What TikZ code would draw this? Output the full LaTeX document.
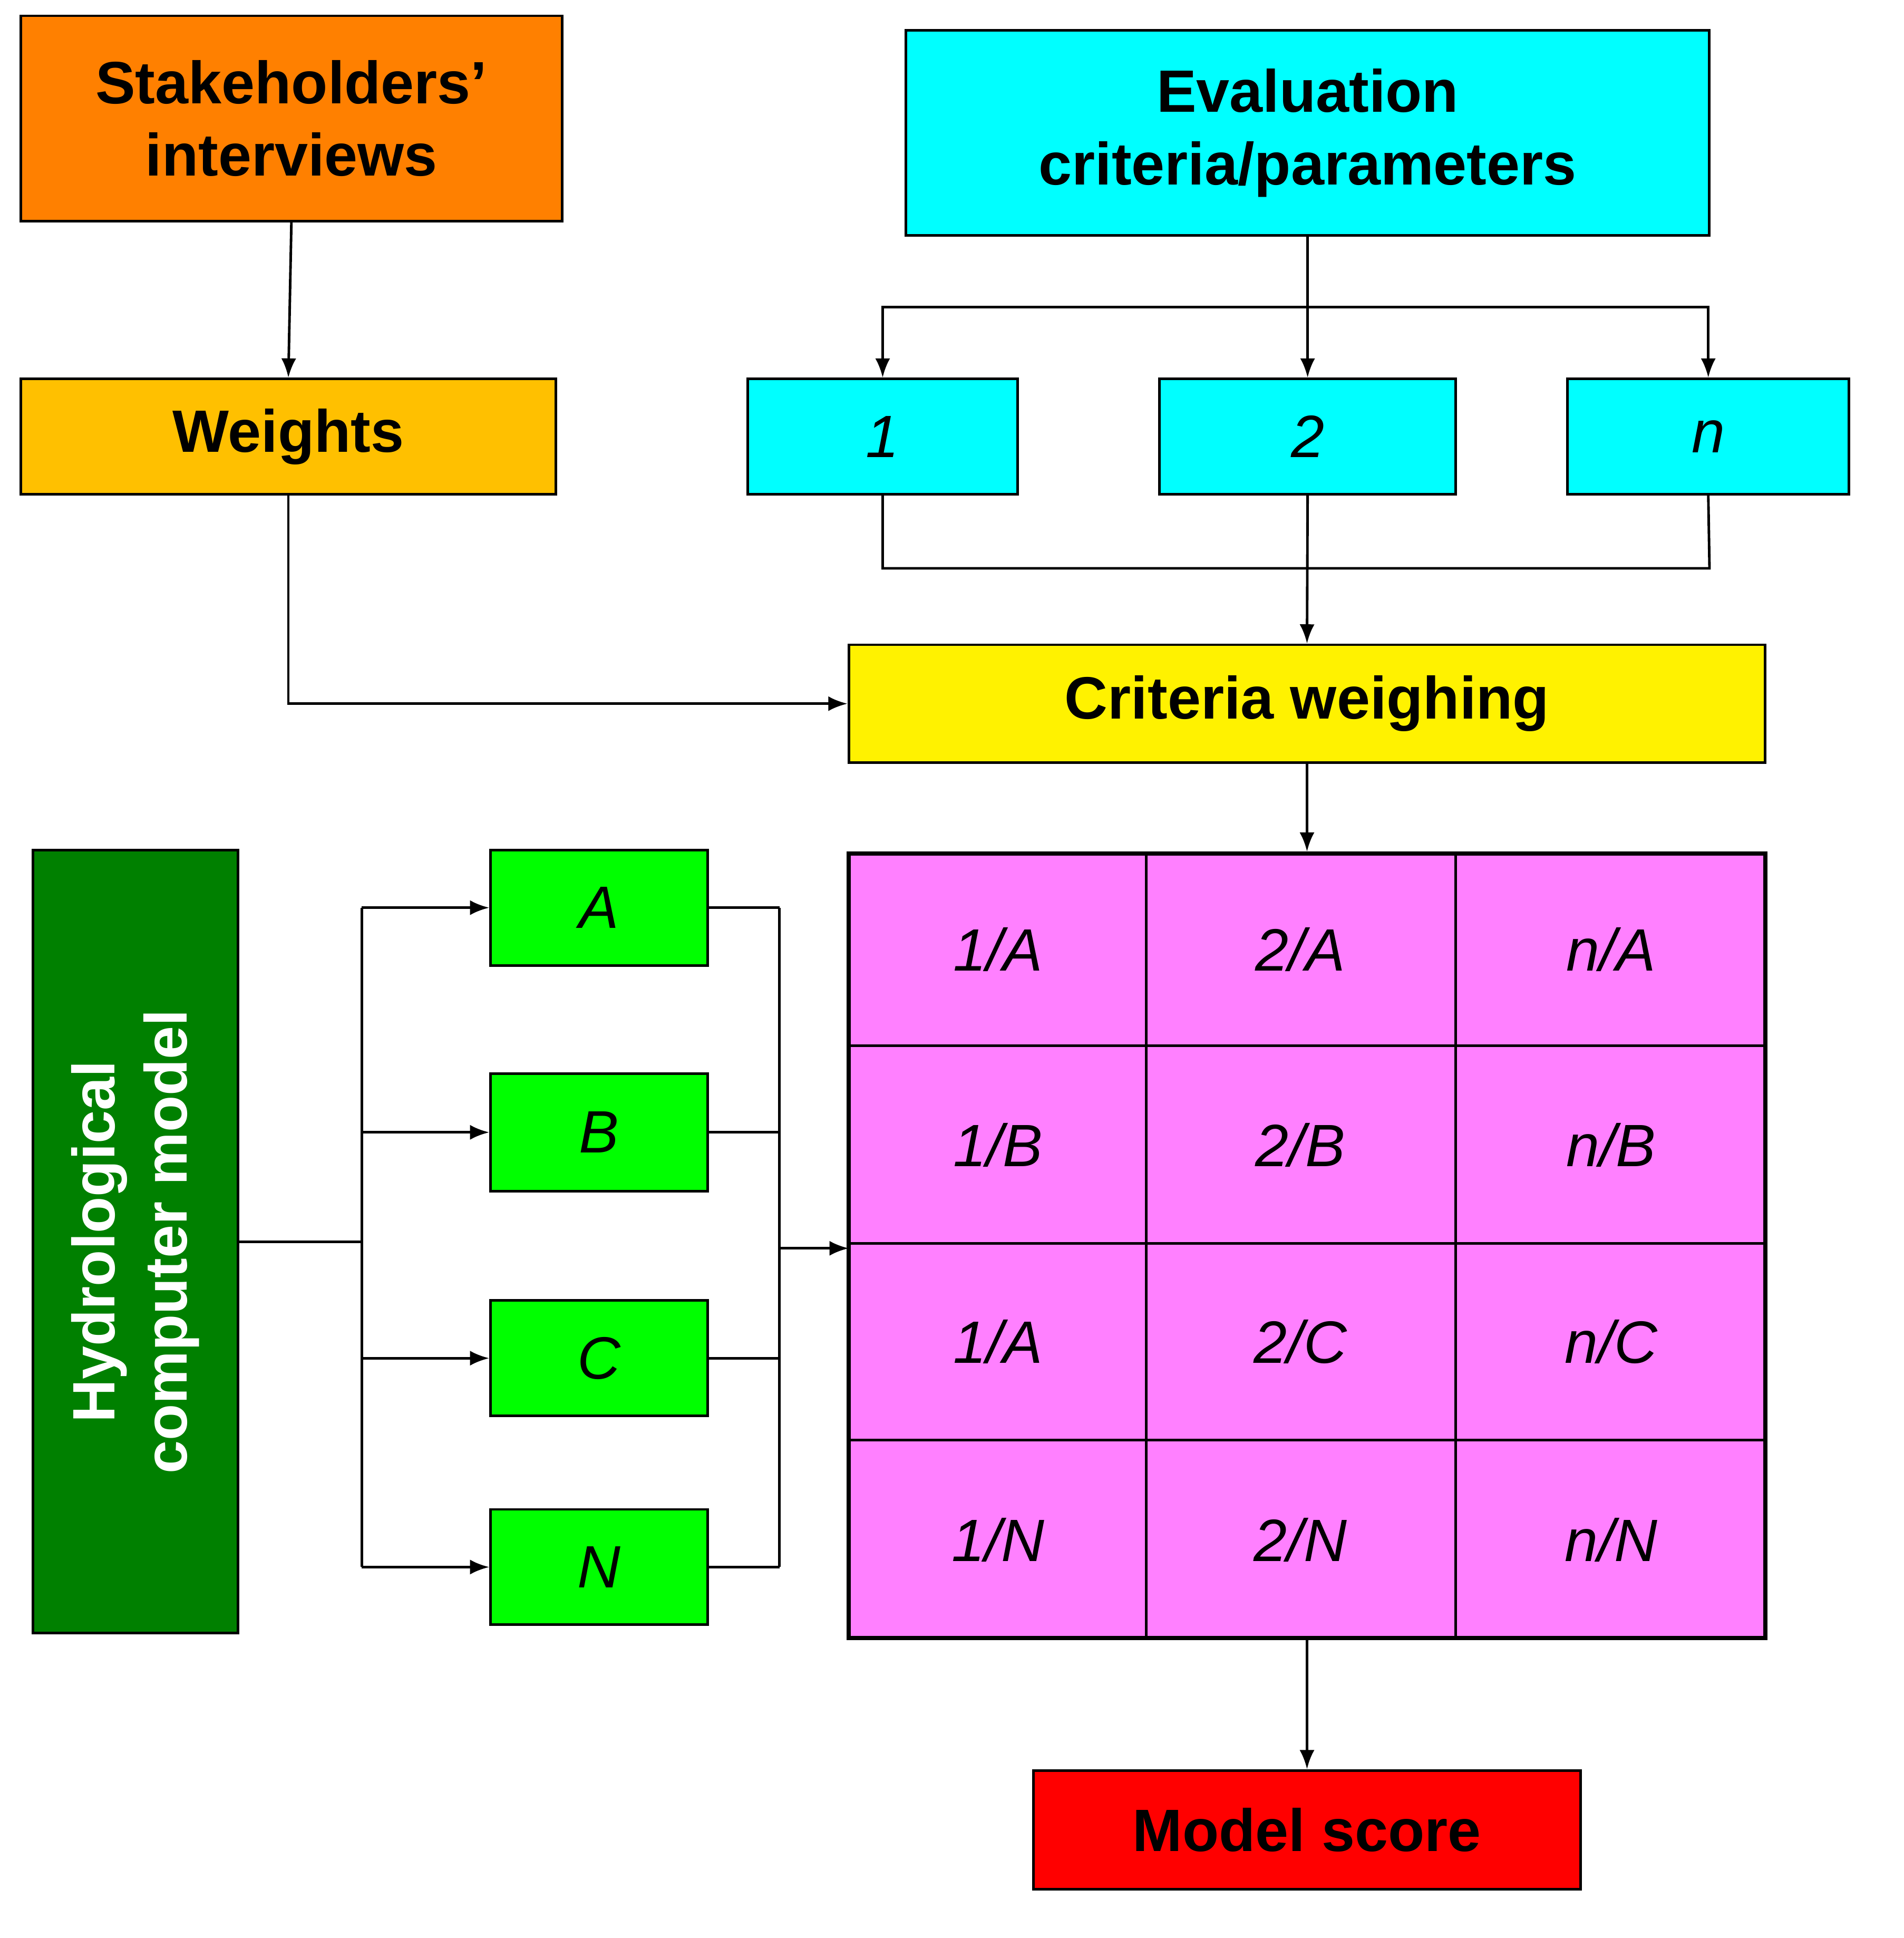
\documentclass[tikz,border=0pt]{standalone}
\usepackage{fontspec}
\setmainfont{Liberation Sans}
\usetikzlibrary{arrows.meta}
\definecolor{orng}{HTML}{FF8000}
\definecolor{gold}{HTML}{FFC000}
\definecolor{cyn}{HTML}{00FFFF}
\definecolor{mag}{HTML}{FF80FF}
\definecolor{dgreen}{HTML}{008000}
\definecolor{lgreen}{HTML}{00FF00}
\begin{document}
\begin{tikzpicture}[x=0.02cm,y=-0.02cm,
  box/.style={draw=black,line width=1.2pt,inner sep=0pt,align=center},
  big/.style={font=\fontsize{28}{34}\selectfont\bfseries},
  it/.style={font=\fontsize{28}{34}\selectfont\itshape},
  ln/.style={line width=1.2pt},
  ar/.style={ln,-{Latex[length=9pt,width=7pt]}}]
\useasboundingbox (0,0) rectangle (1568,1596);
\newcommand\bx[6]{\node[box,#6,fill=#5,minimum width=#3*0.02cm-0pt,minimum height=#4*0.02cm] (#1) at (#2) {};}
\node[box,big,fill=orng,minimum width=8.92cm,minimum height=3.38cm] (sh) at (240,97.5) {Stakeholders’\\interviews};
\node[box,big,fill=cyn,minimum width=13.24cm,minimum height=3.38cm] (ev) at (1077,109.5) {Evaluation\\criteria/parameters};
\node[box,big,fill=gold,minimum width=8.82cm,minimum height=1.9cm] (w) at (237.5,359.5) {Weights};
\node[box,it,fill=cyn,minimum width=4.44cm,minimum height=1.9cm] (c1) at (727,359.5) {1};
\node[box,it,fill=cyn,minimum width=4.88cm,minimum height=1.9cm] (c2) at (1077,359.5) {2};
\node[box,it,fill=cyn,minimum width=4.64cm,minimum height=1.9cm] (cn) at (1407,359.5) {n};
\node[box,big,fill=yellow,minimum width=15.1cm,minimum height=1.94cm] (cw) at (1076.5,579.5) {Criteria weighing};
\node[box,fill=dgreen,minimum width=3.38cm,minimum height=12.9cm] (hy) at (111.5,1022.5) {};
\node[big,white,rotate=90,align=center] at (hy.center) {Hydrological\\computer model};
\node[box,it,fill=lgreen,minimum width=3.58cm,minimum height=1.9cm] (A) at (493.5,747.5) {A};
\node[box,it,fill=lgreen,minimum width=3.58cm,minimum height=1.94cm] (B) at (493.5,932.5) {B};
\node[box,it,fill=lgreen,minimum width=3.58cm,minimum height=1.9cm] (C) at (493.5,1118.5) {C};
\node[box,it,fill=lgreen,minimum width=3.58cm,minimum height=1.9cm] (N) at (493.5,1290.5) {N};
\node[box,big,fill=red,minimum width=9.02cm,minimum height=1.96cm] (ms) at (1076.5,1507) {Model score};
% matrix
\node[draw=black,line width=2pt,fill=mag,minimum width=15.1cm,minimum height=12.92cm,inner sep=0pt] (mx) at (1076.5,1026) {};
\draw[ln] (944,703)--(944,1349) (1199,703)--(1199,1349)
 (699,861)--(1454,861) (699,1024)--(1454,1024) (699,1186)--(1454,1186);
\foreach \y/\a/\b/\c in {782/1\slash A/2\slash A/n\slash A, 943/1\slash B/2\slash B/n\slash B, 1105/1\slash A/2\slash C/n\slash C, 1268/1\slash N/2\slash N/n\slash N}{
 \node[it] at (822,\y) {\a}; \node[it] at (1071,\y) {\b}; \node[it] at (1327,\y) {\c};}
% connectors
\draw[ar] (sh.south) -- (w.north);
\draw[ar] (ev.south) -- (c2.north);
\draw[ar] (728,253) -| (c1.north);
\draw[ar] (728,253) -| (cn.north);
\draw[ln] (c1.south) |- (1408,468) -- (cn.south);
\draw[ar] (c2.south) -- (cw.north);
\draw[ar] (w.south) |- (cw.west);
\draw[ar] (cw.south) -- (mx.north);
\draw[ar] (mx.south) -- (ms.north);
\draw[ln] (hy.east) -- (298,1022.5);
\draw[ln] (298,747.5) -- (298,1290.5);
\foreach \n in {A,B,C,N}{\draw[ar] (298,0 |- \n.west) -- (\n.west); \draw[ln] (\n.east) -- (642,0 |- \n.east);}
\draw[ln] (642,747.5) -- (642,1290.5);
\draw[ar] (642,1028) -- (699,1028);
\end{tikzpicture}
\end{document}
